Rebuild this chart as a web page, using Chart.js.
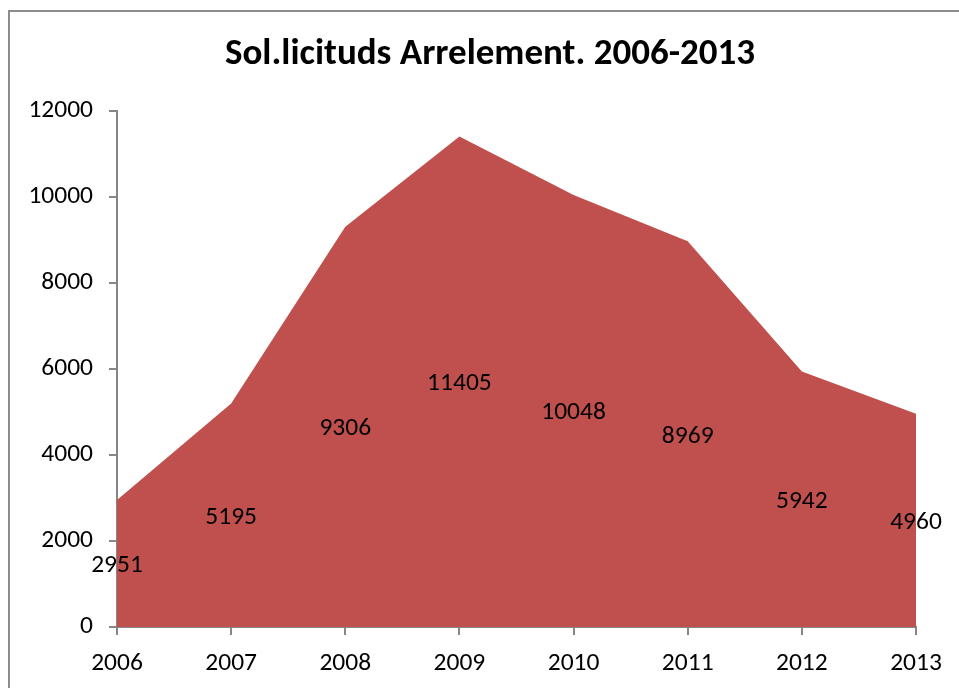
<!DOCTYPE html>
<html>
<head>
<meta charset="utf-8">
<script src="https://cdn.jsdelivr.net/npm/chart.js@4/dist/chart.umd.min.js"></script>
<style>
  html, body { margin: 0; padding: 0; background: #fff; overflow: hidden; }
  #wrap { position: relative; width: 959px; height: 688px; }
  #frame { position: absolute; left: 8px; top: 10px; width: 1000px; height: 1000px;
           border-left: 2px solid #8c8c8c; border-top: 2px solid #8c8c8c; }
  canvas { position: absolute; left: 0; top: 0; }
</style>
</head>
<body>
<div id="wrap">
  <div id="frame"></div>
  <canvas id="myChart" width="959" height="688"></canvas>
</div>
<script>
'use strict';

    var years = ['2006', '2007', '2008', '2009', '2010', '2011', '2012', '2013'];
    var requests = [2951, 5195, 9306, 11405, 10048, 8969, 5942, 4960];
    var yTicks = [0, 2000, 4000, 6000, 8000, 10000, 12000];
    var titleText = 'Sol.licituds Arrelement. 2006-2013';

    var fontFamily = 'Carlito, Lato, "Open Sans", sans-serif';
    var axisGray = '#868686';

    // labels sit halfway up each value, like the spreadsheet original
    // title is drawn here too, centred on the frame rather than on the chart box
    var extraText = {
        id: 'extraText',
        afterDatasetsDraw: function (chart) {
            var ctx = chart.ctx;
            var yScale = chart.scales.y;
            var meta = chart.getDatasetMeta(0);
            ctx.save();
            ctx.font = '25.5px ' + fontFamily;
            ctx.fillStyle = '#000';
            ctx.textAlign = 'center';
            ctx.textBaseline = 'middle';
            meta.data.forEach(function (pt, i) {
                var v = chart.data.datasets[0].data[i];
                var y = yScale.getPixelForValue(v / 2);
                ctx.fillText(String(v), pt.x, y + 2);
            });
            ctx.font = 'bold 37px ' + fontFamily;
            ctx.fillText(titleText, 490, 55);
            ctx.restore();
        }
    };

    const data = {
        labels: years,
        datasets: [{
            data: requests,
            backgroundColor: '#C0504D',
            borderColor: '#C0504D',
            borderWidth: 0,
            fill: 'origin',
            tension: 0,
            pointRadius: 0
        }]
    };

    const options = {
        responsive: false,
        animation: false,
        layout: { padding: { left: 0, right: 43, top: 111, bottom: 0 } },
        plugins: {
            legend: { display: false },
            tooltip: { enabled: false },
            title: { display: false }
        },
        scales: {
            x: {
                type: 'category',
                offset: false,
                grid: { display: true, drawOnChartArea: false, tickLength: 8, color: axisGray, lineWidth: 2 },
                border: { display: true, color: axisGray, width: 2 },
                ticks: { color: '#000', font: { family: fontFamily, size: 25.5 }, padding: 13, maxRotation: 0 },
                afterFit: function (s) { s.height = 61; }
            },
            y: {
                min: 0,
                max: 12000,
                afterBuildTicks: function (s) { s.ticks = yTicks.map(function (v) { return { value: v }; }); },
                grid: { display: true, drawOnChartArea: false, tickLength: 8, color: axisGray, lineWidth: 2 },
                border: { display: true, color: axisGray, width: 2 },
                ticks: {
                    color: '#000',
                    font: { family: fontFamily, size: 25.5 },
                    padding: 16,
                    callback: function (v) { return String(v); }
                },
                afterFit: function (s) { s.width = 117; }
            }
        }
    };

    let myChart = new Chart(document.getElementById('myChart'), {
        type: 'line',
        data: data,
        options: options,
        plugins: [extraText]
    });
</script>
</body>
</html>
